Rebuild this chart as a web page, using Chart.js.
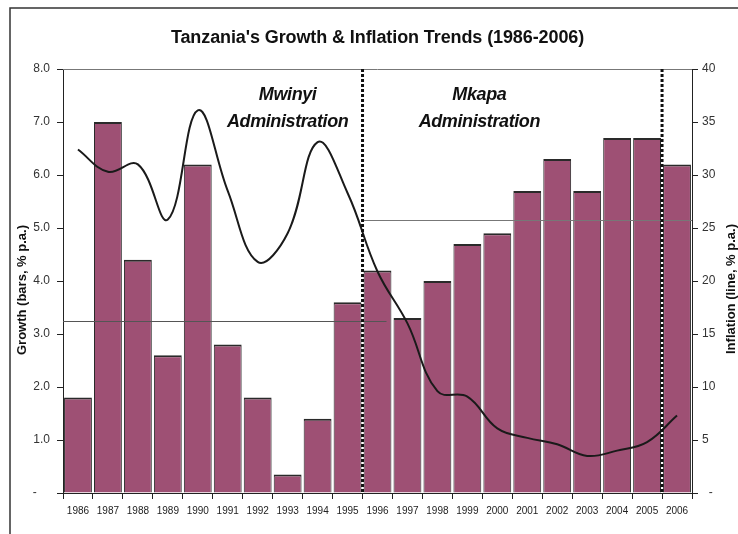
<!DOCTYPE html>
<html>
<head>
<meta charset="utf-8">
<script src="https://cdn.jsdelivr.net/npm/chart.js@4.4.1/dist/chart.umd.min.js"></script>
<style>
  html, body { margin: 0; padding: 0; background: #fff; }
  #wrap { width: 738px; height: 534px; }
</style>
</head>
<body>
<div id="wrap"><canvas id="chart" width="738" height="534"></canvas></div>
<script>
// values
const years = ['1986', '1987', '1988', '1989', '1990', '1991', '1992', '1993', '1994', '1995', '1996',
    '1997', '1998', '1999', '2000', '2001', '2002', '2003', '2004', '2005', '2006'];
const growth = [1.8, 7.0, 4.4, 2.6, 6.2, 2.8, 1.8, 0.35, 1.4, 3.6, 4.2,
    3.3, 4.0, 4.7, 4.9, 5.7, 6.3, 5.7, 6.7, 6.7, 6.2];
const inflation = [32.4, 30.3, 31.0, 25.8, 36.1, 28.5, 21.8, 24.5, 33.1, 28.3, 20.9,
    16.0, 9.6, 9.1, 6.1, 5.2, 4.6, 3.5, 4.0, 4.8, 7.3];
const avgGrowth = [3.25, 5.15];            // period average growth lines
const avgSpan = [[-0.5, 10.3], [9.45, 20.5]]; // category index range of each line
const periodBreaks = [9.5, 19.5];          // change of administration
const adminNames = ['Mwinyi', 'Mkapa'];
const adminAt = [7, 13.4];                 // category index of label centre

const FONT = "'Liberation Sans', Arial, sans-serif";

const overlay = {
    id: 'overlay',
    beforeDraw(chart) {
        const ctx = chart.ctx;
        ctx.save();
        ctx.strokeStyle = '#333';
        ctx.lineWidth = 1.5;
        ctx.beginPath();
        ctx.moveTo(10, chart.height);
        ctx.lineTo(10, 8);
        ctx.lineTo(chart.width, 8);
        ctx.stroke();
        ctx.restore();
    },
    afterDatasetsDraw(chart) {
        const { ctx, chartArea, scales } = chart;
        const x = scales.x, y = scales.y;
        ctx.save();
        // top border of plot
        ctx.strokeStyle = '#777';
        ctx.lineWidth = 1;
        ctx.beginPath();
        ctx.moveTo(chartArea.left, chartArea.top + 0.5);
        ctx.lineTo(chartArea.right, chartArea.top + 0.5);
        ctx.stroke();

        // average lines
        avgGrowth.forEach((v, i) => {
            ctx.strokeStyle = i === 0 ? '#555' : '#777';
            ctx.lineWidth = 1.2;
            const py = Math.round(y.getPixelForValue(v)) + 0.5;
            ctx.beginPath();
            ctx.moveTo(x.getPixelForValue(avgSpan[i][0]), py);
            ctx.lineTo(x.getPixelForValue(avgSpan[i][1]), py);
            ctx.stroke();
        });

        // dotted separators
        ctx.strokeStyle = '#111';
        ctx.lineWidth = 3;
        ctx.setLineDash([3, 2]);
        periodBreaks.forEach(b => {
            const px = x.getPixelForValue(b);
            ctx.beginPath();
            ctx.moveTo(px, chartArea.top);
            ctx.lineTo(px, chartArea.bottom);
            ctx.stroke();
        });
        ctx.restore();
    },
    afterDraw(chart) {
        const { ctx, chartArea, scales } = chart;
        ctx.save();
        ctx.fillStyle = '#111';
        ctx.textAlign = 'center';
        ctx.textBaseline = 'middle';

        ctx.font = 'bold 18px ' + FONT;
        ctx.letterSpacing = '-0.1px';
        ctx.fillText("Tanzania's Growth & Inflation Trends (1986-2006)", (chartArea.left + chartArea.right) / 2, 38);

        ctx.font = 'bold italic 18px ' + FONT;
        ctx.letterSpacing = '-0.4px';
        adminNames.forEach((name, i) => {
            const px = scales.x.getPixelForValue(adminAt[i]);
            ctx.fillText(name, px, scales.y.getPixelForValue(7.5));
            ctx.fillText('Administration', px, scales.y.getPixelForValue(7.0));
        });

        ctx.letterSpacing = '0px';
        ctx.font = 'bold 13px ' + FONT;
        ctx.save();
        ctx.translate(22, 290);
        ctx.rotate(-Math.PI / 2);
        ctx.fillText('Growth (bars, % p.a.)', 0, 0);
        ctx.restore();
        ctx.save();
        ctx.translate(731, 289);
        ctx.rotate(-Math.PI / 2);
        ctx.fillText('Inflation (line, % p.a.)', 0, 0);
        ctx.restore();
        ctx.restore();
    }
};

new Chart(document.getElementById('chart'), {
    type: 'bar',
    data: {
        labels: years,
        datasets: [
            {
                type: 'line',
                label: 'Inflation',
                data: inflation,
                yAxisID: 'y1',
                borderColor: '#1a1a1a',
                borderWidth: 2,
                pointRadius: 0,
                tension: 0.4,
                fill: false,
                order: 0
            },
            {
                label: 'Growth',
                data: growth,
                yAxisID: 'y',
                backgroundColor: '#9E5074',
                borderColor: '#2a2a2a',
                borderWidth: { top: 2, left: 1, right: 1, bottom: 0 },
                borderSkipped: false,
                categoryPercentage: 1,
                barPercentage: 0.93,
                order: 1
            }
        ]
    },
    options: {
        responsive: false,
        animation: false,
        layout: { padding: { top: 69, left: 0, right: 0, bottom: 0 } },
        plugins: {
            legend: { display: false },
            title: { display: false },
            tooltip: { enabled: false }
        },
        scales: {
            x: {
                grid: { display: true, drawOnChartArea: false, tickLength: 6, color: '#222' },
                border: { color: '#222', width: 1 },
                ticks: { color: '#222', font: { family: FONT, size: 10 }, padding: 6, maxRotation: 0, autoSkip: false },
                afterFit(scale) { scale.height = 41; }
            },
            y: {
                position: 'left',
                min: 0,
                max: 8,
                grid: { drawOnChartArea: false, tickLength: 6, color: '#222' },
                border: { color: '#222', width: 1 },
                ticks: {
                    stepSize: 1,
                    color: '#333',
                    padding: 7,
                    font: { family: FONT, size: 12 },
                    callback: v => v === 0 ? '-    ' : v.toFixed(1)
                },
                afterFit(scale) { scale.width = 63; }
            },
            y1: {
                position: 'right',
                min: 0,
                max: 40,
                grid: { drawOnChartArea: false, tickLength: 6, color: '#222' },
                border: { color: '#222', width: 1 },
                ticks: {
                    stepSize: 5,
                    color: '#333',
                    padding: 4,
                    font: { family: FONT, size: 12 },
                    callback: v => v === 0 ? '  -' : String(v)
                },
                afterFit(scale) { scale.width = 46; }
            }
        }
    },
    plugins: [overlay]
});
</script>
</body>
</html>
